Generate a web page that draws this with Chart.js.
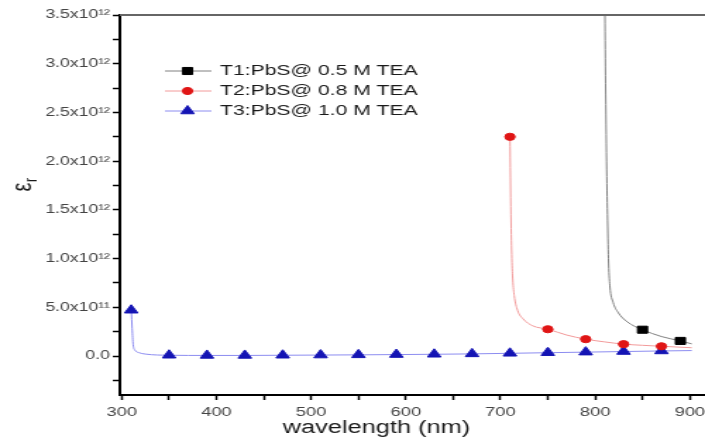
<!DOCTYPE html>
<html>
<head>
<meta charset="utf-8">
<script src="https://cdn.jsdelivr.net/npm/chart.js@4.4.1/dist/chart.umd.min.js"></script>
<style>
  html, body { margin: 0; padding: 0; background: #fff; }
  #wrap { width: 705px; height: 442px; overflow: hidden; }
  #c { display: block; }
</style>
</head>
<body>
<div id="wrap"><canvas id="c" width="500" height="442" style="width:705px;height:442px"></canvas></div>
<script>
// values (wavelength in nm, eps_r)
const t1Wavelength = [809.5, 810.3, 811, 812, 813, 814, 815.5, 819, 824, 834, 850, 870, 890, 902];
const t1Eps = [4.2e12, 3.5e12, 2.8e12, 2.0e12, 1.45e12, 1.0e12, 0.72e12, 0.55e12, 0.45e12, 0.35e12, 0.27e12, 0.2e12, 0.155e12, 0.125e12];
const t1Marks = [850, 890];

const t2Wavelength = [710, 711, 712, 713, 714.5, 718, 724, 734, 750, 770, 790, 810, 830, 850, 870, 902];
const t2Eps = [2.25e12, 1.45e12, 1.0e12, 0.78e12, 0.62e12, 0.47e12, 0.38e12, 0.31e12, 0.275e12, 0.215e12, 0.173e12, 0.145e12, 0.122e12, 0.11e12, 0.1e12, 0.085e12];
const t2Marks = [710, 750, 790, 830, 870];

const t3Wavelength = [310, 311, 312, 314, 318, 325, 350, 390, 430, 470, 510, 550, 590, 630, 670, 710, 750, 790, 830, 870, 902];
const t3Eps = [0.47e12, 0.28e12, 0.12e12, 0.06e12, 0.035e12, 0.02e12, 0.008e12, 0.006e12, 0.006e12, 0.008e12, 0.01e12, 0.012e12, 0.015e12, 0.018e12, 0.022e12, 0.028e12, 0.034e12, 0.04e12, 0.046e12, 0.052e12, 0.056e12];
const t3Marks = [310, 350, 390, 430, 470, 510, 550, 590, 630, 670, 710, 750, 790, 830, 870];

const seriesLabels = ['T1:PbS@ 0.5 M TEA', 'T2:PbS@ 0.8 M TEA', 'T3:PbS@ 1.0 M TEA'];

const xMajor = [300, 400, 500, 600, 700, 800, 900];
const xLabels = ['300', '400', '500', '600', '700', '800', '900'];
const xMinor = [350, 450, 550, 650, 750, 850];

const yMajor = [0, 0.5e12, 1.0e12, 1.5e12, 2.0e12, 2.5e12, 3.0e12, 3.5e12];
const yLabels = ['0.0', '5.0x10¹¹', '1.0x10¹²', '1.5x10¹²', '2.0x10¹²', '2.5x10¹²', '3.0x10¹²', '3.5x10¹²'];
const yMinor = [-0.25e12, 0.25e12, 0.75e12, 1.25e12, 1.75e12, 2.25e12, 2.75e12, 3.25e12];

Chart.defaults.font.family = '"Liberation Sans", Arial, sans-serif';

function makeSeries(label, xs, ys, marks, line, fillCol, style, r) {
    return {
        label: label,
        data: xs.map((x, i) => ({ x: x, y: ys[i] })),
        borderColor: line,
        borderWidth: 1,
        pointStyle: style,
        pointRadius: c => (c.raw && marks.includes(c.raw.x)) ? r : 0,
        pointBackgroundColor: fillCol,
        pointBorderColor: fillCol,
        pointBorderWidth: 1,
        markerRadius: r,
        cubicInterpolationMode: 'monotone',
        fill: false
    };
}

// top frame line, x tick labels, legend and axis titles
const decor = {
    id: 'decor',
    afterDraw(chart) {
        const ctx = chart.ctx;
        const a = chart.chartArea;
        const xs = chart.scales.x;
        ctx.save();
        ctx.strokeStyle = '#666';
        ctx.lineWidth = 2;
        ctx.beginPath();
        ctx.moveTo(a.left, a.top);
        ctx.lineTo(a.right, a.top);
        ctx.stroke();

        ctx.fillStyle = '#444';
        ctx.font = '13px "Liberation Sans", Arial';
        ctx.textAlign = 'center';
        ctx.textBaseline = 'middle';
        xMajor.forEach((v, i) => ctx.fillText(xLabels[i], xs.getPixelForValue(v), a.bottom + 17));

        chart.data.datasets.forEach((ds, i) => {
            const y = 71 + i * 20;
            ctx.strokeStyle = ds.borderColor;
            ctx.lineWidth = 1;
            ctx.beginPath();
            ctx.moveTo(117, y);
            ctx.lineTo(150, y);
            ctx.stroke();
            ctx.fillStyle = ds.pointBackgroundColor;
            ctx.strokeStyle = ds.pointBorderColor;
            Chart.helpers.drawPoint(ctx, { pointStyle: ds.pointStyle, radius: ds.markerRadius, rotation: 0, borderWidth: 1 }, 133, y);
            ctx.fillStyle = '#1a1a1a';
            ctx.font = '15px "Liberation Sans", Arial';
            ctx.textAlign = 'left';
            ctx.textBaseline = 'middle';
            ctx.fillText(ds.label, 156, y);
        });

        ctx.fillStyle = '#1a1a1a';
        ctx.font = '18px "Liberation Sans", Arial';
        ctx.textAlign = 'center';
        ctx.textBaseline = 'middle';
        ctx.fillText('wavelength (nm)', 267, 428);

        ctx.translate(22, 187);
        ctx.rotate(-Math.PI / 2);
        ctx.textBaseline = 'alphabetic';
        ctx.font = '20px "Liberation Sans", Arial';
        ctx.fillText('ε', 0, 0);
        ctx.font = '12px "Liberation Sans", Arial';
        ctx.textAlign = 'left';
        ctx.fillText('r', 5, 4);
        ctx.restore();
    }
};

new Chart(document.getElementById('c'), {
    type: 'line',
    data: {
        datasets: [
            makeSeries(seriesLabels[0], t1Wavelength, t1Eps, t1Marks, '#808080', '#000000', 'rect', 5),
            makeSeries(seriesLabels[1], t2Wavelength, t2Eps, t2Marks, '#f29a9a', '#e01515', 'circle', 3.6),
            makeSeries(seriesLabels[2], t3Wavelength, t3Eps, t3Marks, '#8c8cf0', '#1414b4', 'triangle', 5.5)
        ]
    },
    options: {
        responsive: false,
        animation: false,
        events: [],
        layout: { autoPadding: false, padding: { top: 15, left: 0, right: 0, bottom: 0 } },
        plugins: { legend: { display: false }, tooltip: { enabled: false } },
        scales: {
            x: {
                type: 'linear',
                min: 298,
                max: 916,
                afterBuildTicks: s => { s.ticks = xMajor.concat(xMinor).sort((p, q) => p - q).map(v => ({ value: v })); },
                afterFit: s => { s.height = 47; },
                border: { color: '#000', width: 2 },
                grid: { drawOnChartArea: false, tickLength: 5, tickColor: '#000', tickWidth: 1.5 },
                ticks: { display: false }
            },
            y: {
                min: -0.4e12,
                max: 3.5e12,
                afterBuildTicks: s => { s.ticks = yMajor.concat(yMinor).sort((p, q) => p - q).map(v => ({ value: v })); },
                afterFit: s => { s.width = 85; },
                border: { color: '#000', width: 2 },
                grid: { drawOnChartArea: false, tickLength: 5, tickColor: '#000', tickWidth: 1.5 },
                ticks: {
                    color: '#444',
                    font: { size: 12.5 },
                    padding: 2,
                    autoSkip: false,
                    callback: v => { const i = yMajor.indexOf(v); return i >= 0 ? yLabels[i] : ''; }
                }
            }
        }
    },
    plugins: [decor]
});
</script>
</body>
</html>
